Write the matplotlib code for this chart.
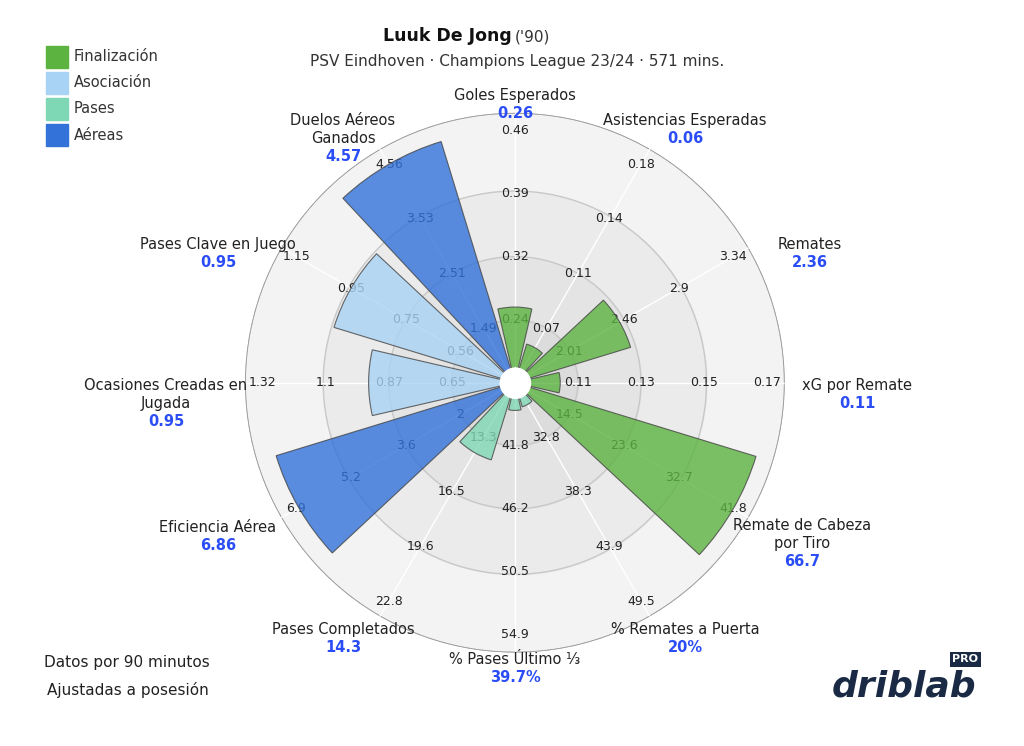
import numpy as np
import matplotlib.pyplot as plt
from matplotlib.patches import Rectangle

categories = ["Goles Esperados", "Asistencias Esperadas", "Remates", "xG por Remate",
              "Remate de Cabeza\npor Tiro", "% Remates a Puerta", "% Pases Último ⅓",
              "Pases Completados", "Eficiencia Aérea", "Ocasiones Creadas en\nJugada",
              "Pases Clave en Juego", "Duelos Aéreos\nGanados"]
values_txt = ["0.26", "0.06", "2.36", "0.11", "66.7", "20%", "39.7%", "14.3", "6.86", "0.95", "0.95", "4.57"]
percentiles = [0.30, 0.16, 0.48, 0.18, 1.0, 0.10, 0.11, 0.32, 0.99, 0.58, 0.75, 1.0]
groups = ["Finalización"] * 5 + ["Pases"] * 3 + ["Aéreas"] + ["Asociación"] * 2 + ["Aéreas"]
ticks = [["0.24", "0.32", "0.39", "0.46"], ["0.07", "0.11", "0.14", "0.18"],
         ["2.01", "2.46", "2.9", "3.34"], ["0.11", "0.13", "0.15", "0.17"],
         ["14.5", "23.6", "32.7", "41.8"], ["32.8", "38.3", "43.9", "49.5"],
         ["41.8", "46.2", "50.5", "54.9"], ["13.3", "16.5", "19.6", "22.8"],
         ["2", "3.6", "5.2", "6.9"], ["0.65", "0.87", "1.1", "1.32"],
         ["0.56", "0.75", "0.95", "1.15"], ["1.49", "2.51", "3.53", "4.56"]]
group_colors = {"Finalización": "#5cb340", "Asociación": "#a9d3f5",
                "Pases": "#7fd8b5", "Aéreas": "#3272d9"}
# label name top positions in pixels (x, y from top)
label_px = [(515, 88), (685, 113), (810, 237), (857, 378), (802, 518), (685, 622),
            (515, 652), (343, 622), (218, 520), (166, 378), (218, 237), (343, 113)]
tick_r = [0.25, 0.5, 0.75, 1.0]
W, H = 1024, 746

fig = plt.figure(figsize=(10.24, 7.46), dpi=100)
ax = fig.add_axes([0.503 - 0.2637, 0.487 - 0.362, 0.527, 0.724], projection="polar")
ax.set_theta_zero_location("N")
ax.set_theta_direction(-1)
ax.set_ylim(0, 1.07)
ax.axis("off")

th = np.linspace(0, 2 * np.pi, 400)
for r, c in [(1.07, "#f3f3f3"), (0.76, "#ebebeb"), (0.5, "#e4e4e4"), (0.25, "#dcdcdc")]:
    ax.fill_between(th, 0, r, color=c, zorder=0)
    ax.plot(th, np.full_like(th, r), color="#c8c8c8", lw=1, zorder=1)
ax.plot(th, np.full_like(th, 1.07), color="#999999", lw=1.2, zorder=1)

angles = np.deg2rad(np.arange(12) * 30)
for a in angles:
    ax.plot([a, a], [0, 1.07], color="white", lw=1, zorder=1)

for a, tk in zip(angles, ticks):
    for r, t in zip(tick_r, tk):
        ax.text(a, r, t, ha="center", va="center", fontsize=9, color="#222222", zorder=2)

cols = [group_colors[g] for g in groups]
ax.bar(angles, percentiles, width=np.deg2rad(26), color=cols, edgecolor="#444444",
       lw=0.8, alpha=0.8, zorder=3)
ax.fill_between(th, 0, 0.06, color="white", zorder=4)

for (x, y), name, v in zip(label_px, categories, values_txt):
    nl = name.count("\n") + 1
    fig.text(x / W, 1 - y / H, name, ha="center", va="top", fontsize=10.5,
             color="#222222", linespacing=1.25)
    fig.text(x / W, 1 - (y + 18 * nl) / H, v, ha="center", va="top", fontsize=10.5,
             color="#2b4df5", fontweight="bold")

fig.text(0.5, 0.945, "Luuk De Jong", ha="right", fontsize=12.5, fontweight="bold", color="#111111")
fig.text(0.503, 0.945, "('90)", ha="left", fontsize=11, color="#333333")
fig.text(0.505, 0.912, "PSV Eindhoven · Champions League 23/24 · 571 mins.", ha="center",
         fontsize=11, color="#333333")

for i, g in enumerate(["Finalización", "Asociación", "Pases", "Aéreas"]):
    y = 0.924 - i * 0.035
    fig.patches.append(Rectangle((0.045, y - 0.015), 0.021, 0.03, transform=fig.transFigure,
                                 color=group_colors[g], figure=fig))
    fig.text(0.072, y, g, va="center", fontsize=10.5, color="#333333")

fig.text(0.043, 0.112, "Datos por 90 minutos", fontsize=11, color="#222222", va="center")
fig.text(0.046, 0.075, "Ajustadas a posesión", fontsize=11, color="#222222", va="center")
fig.text(0.812, 0.08, "driblab", fontsize=26, fontweight="bold", style="italic",
         color="#1a2a44", va="center")
fig.text(0.93, 0.116, "PRO", fontsize=8, fontweight="bold", color="white", va="center",
         bbox=dict(boxstyle="square,pad=0.2", fc="#1a2a44", ec="none"))

fig.savefig("out.png", dpi=100, facecolor="white")
